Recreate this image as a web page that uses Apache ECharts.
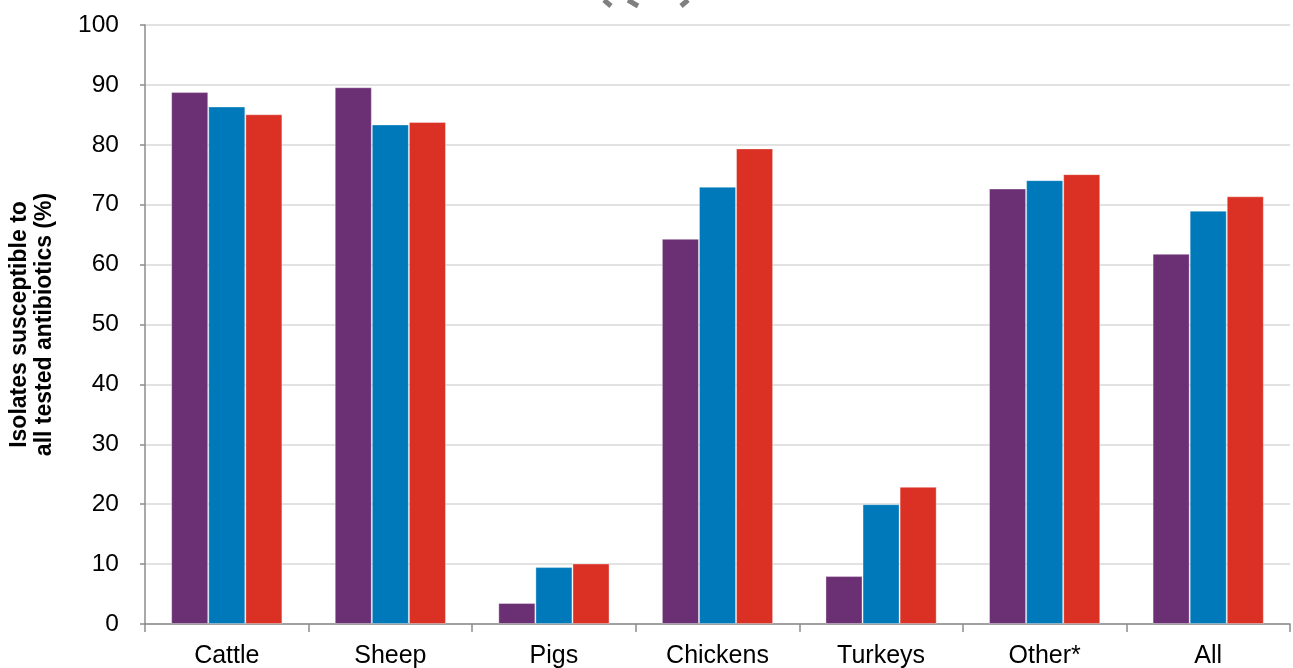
<!DOCTYPE html>
<html>
<head>
<meta charset="utf-8">
<script src="https://cdn.jsdelivr.net/npm/echarts@6/dist/echarts.min.js"></script>
<style>
html,body{margin:0;padding:0;background:#fff;}
#chart{width:1293px;height:668px;}
</style>
</head>
<body>
<div id="chart"></div>
<script>
var categories = ['Cattle', 'Sheep', 'Pigs', 'Chickens', 'Turkeys', 'Other*', 'All'];
var seriesA = [88.8, 89.6, 3.5, 64.3, 8.0, 72.7, 61.8];
var seriesB = [86.4, 83.4, 9.5, 73.0, 20.0, 74.1, 69.0];
var seriesC = [85.1, 83.8, 10.1, 79.4, 22.9, 75.1, 71.4];
var yTicks = [0, 10, 20, 30, 40, 50, 60, 70, 80, 90, 100];

var chart = echarts.init(document.getElementById('chart'));
var font = '"Liberation Sans", Arial, sans-serif';
function bar(name, data, color) {
  return {
    name: name, type: 'bar', data: data, barGap: '0%', barCategoryGap: '32%',
    itemStyle: { color: color, borderColor: 'rgba(255,255,255,0.35)', borderWidth: 1 },
    emphasis: { disabled: true }
  };
}
chart.setOption({
  animation: false,
  grid: { left: 145, right: 3, top: 25, bottom: 44, containLabel: false, outerBoundsMode: 'none' },
  xAxis: {
    type: 'category', data: categories,
    axisLine: { lineStyle: { color: '#8c8c8c', width: 1.5 } },
    axisTick: { show: true, length: 8, lineStyle: { color: '#8c8c8c', width: 1.5 } },
    axisLabel: { color: '#000', fontSize: 25, fontFamily: font, margin: 20 }
  },
  yAxis: {
    type: 'value', min: yTicks[0], max: yTicks[yTicks.length - 1], interval: 10,
    name: 'Isolates susceptible to\nall tested antibiotics (%)',
    nameLocation: 'middle', nameGap: 88, nameRotate: 90,
    nameTextStyle: { color: '#000', fontSize: 23, fontWeight: 'bold', fontFamily: font, lineHeight: 25 },
    axisLine: { show: true, lineStyle: { color: '#8c8c8c', width: 1.5 } },
    axisTick: { show: true, length: 5, lineStyle: { color: '#8c8c8c', width: 1.5 } },
    axisLabel: { color: '#000', fontSize: 24.5, fontFamily: font, margin: 26 },
    splitLine: { lineStyle: { color: '#d9d9d9', width: 1.5 } }
  },
  series: [
    bar('A', seriesA, '#6B2F74'),
    bar('B', seriesB, '#0079BA'),
    bar('C', seriesC, '#DA3124')
  ],
  graphic: [
    { type: 'line', shape: { x1: 604, y1: 0, x2: 611, y2: 6 }, style: { stroke: '#808080', lineWidth: 5 } },
    { type: 'line', shape: { x1: 628, y1: 0, x2: 638, y2: 6 }, style: { stroke: '#808080', lineWidth: 5 } },
    { type: 'line', shape: { x1: 688, y1: 0, x2: 681, y2: 6 }, style: { stroke: '#808080', lineWidth: 5 } }
  ]
});
</script>
</body>
</html>
